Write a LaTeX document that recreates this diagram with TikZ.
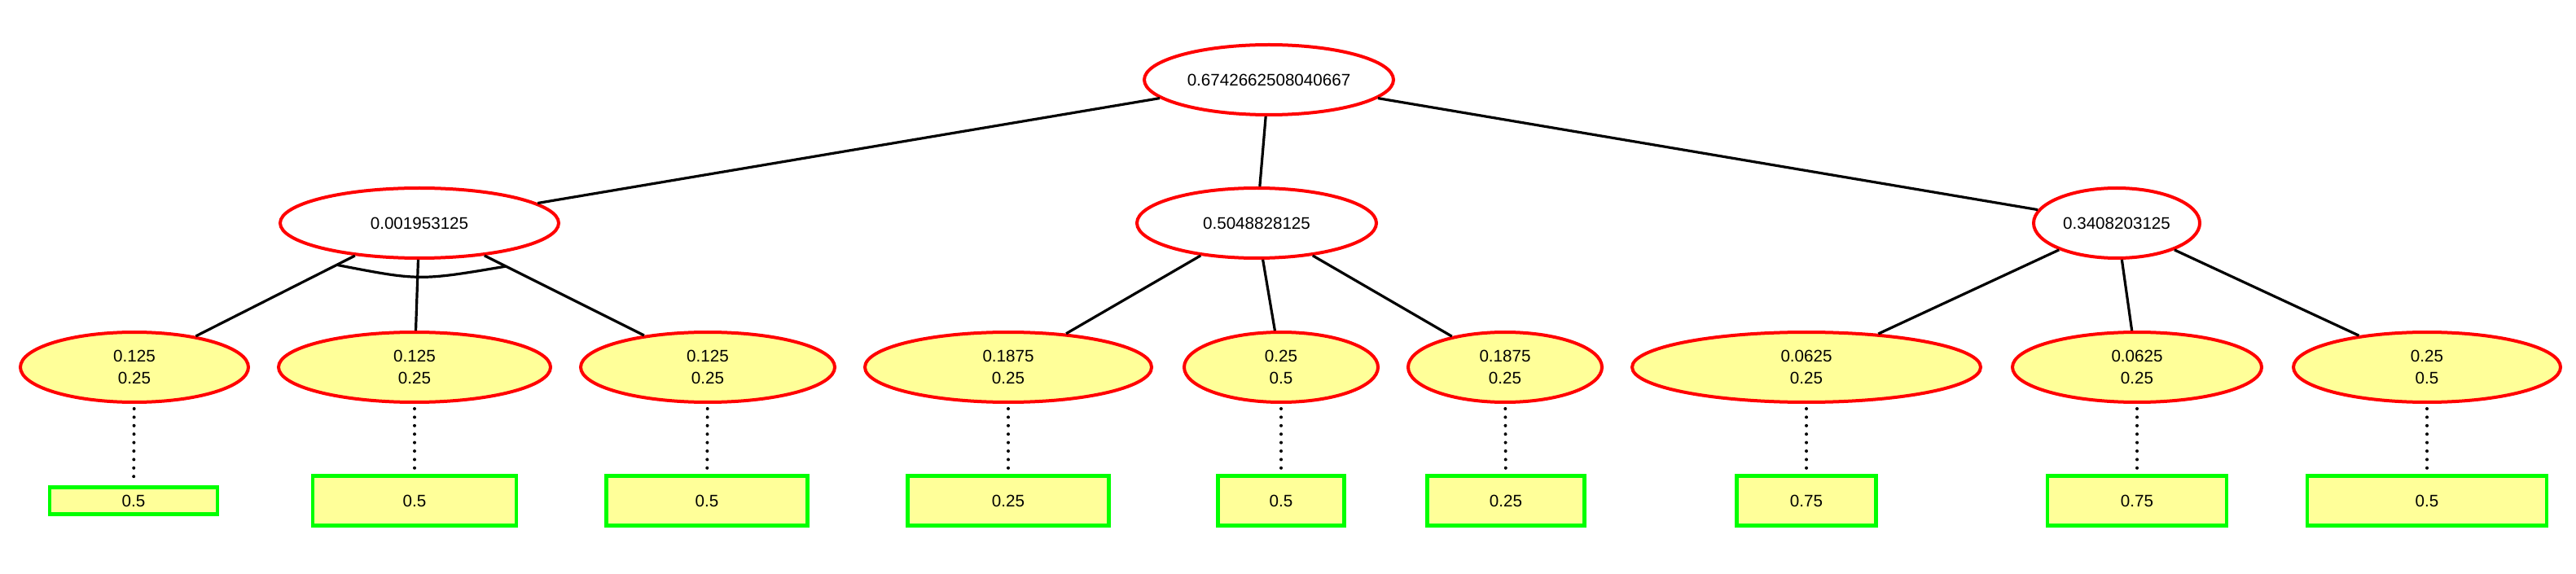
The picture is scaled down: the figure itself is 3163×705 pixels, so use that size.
\documentclass[tikz,border=0pt]{standalone}
\usepackage{fontspec}
\setmainfont{Liberation Sans}
\usetikzlibrary{shapes.geometric,calc}
\definecolor{leafyellow}{RGB}{255,255,153}
\definecolor{leafgreen}{RGB}{0,255,0}
\tikzset{
  inner/.style={ellipse, draw=red, line width=2pt, inner sep=0pt, minimum height=43pt, font=\fontsize{10.3}{13.5}\selectfont},
  chance/.style={ellipse, draw=red, fill=leafyellow, line width=2pt, inner sep=0pt, minimum height=43pt, align=center, font=\fontsize{10.3}{13.5}\selectfont},
  leafbox/.style={rectangle, draw=leafgreen, fill=leafyellow, line width=2.2pt, inner sep=0pt, minimum height=30.5pt, font=\fontsize{10.3}{13.5}\selectfont},
  edge/.style={draw=black, line width=1.6pt},
  dotedge/.style={draw=black, line width=2pt, line cap=round, dash pattern=on 0pt off 5.2pt, shorten <=3pt, shorten >=2pt}
}
\begin{document}
\begin{tikzpicture}[x=0.5pt,y=-0.5pt]
\useasboundingbox (0,0) rectangle (3163,705);
% root and level 1
\node[inner, minimum width=153pt] (root) at (1558,98) {0.6742662508040667};
\node[inner, minimum width=171pt] (a) at (515,274) {0.001953125};
\node[inner, minimum width=147pt] (b) at (1543,274) {0.5048828125};
\node[inner, minimum width=102pt] (c) at (2599,274) {0.3408203125};
% level 2
\node[chance, minimum width=140pt] (e1) at (165,451) {0.125\\0.25};
\node[chance, minimum width=167pt] (e2) at (509,451) {0.125\\0.25};
\node[chance, minimum width=156pt] (e3) at (869,451) {0.125\\0.25};
\node[chance, minimum width=176pt] (e4) at (1238,451) {0.1875\\0.25};
\node[chance, minimum width=119pt] (e5) at (1573,451) {0.25\\0.5};
\node[chance, minimum width=119pt] (e6) at (1848,451) {0.1875\\0.25};
\node[chance, minimum width=214pt] (e7) at (2218,451) {0.0625\\0.25};
\node[chance, minimum width=153pt] (e8) at (2624,451) {0.0625\\0.25};
\node[chance, minimum width=164pt] (e9) at (2980,451) {0.25\\0.5};
% leaves
\node[leafbox, minimum width=103pt, minimum height=16.5pt] (f1) at (164,615) {0.5};
\node[leafbox, minimum width=125pt] (f2) at (509,615) {0.5};
\node[leafbox, minimum width=123.5pt] (f3) at (868,615) {0.5};
\node[leafbox, minimum width=123.5pt] (f4) at (1238,615) {0.25};
\node[leafbox, minimum width=77.5pt] (f5) at (1573,615) {0.5};
\node[leafbox, minimum width=96.5pt] (f6) at (1849,615) {0.25};
\node[leafbox, minimum width=85.5pt] (f7) at (2218,615) {0.75};
\node[leafbox, minimum width=110pt] (f8) at (2624,615) {0.75};
\node[leafbox, minimum width=147pt] (f9) at (2980,615) {0.5};
% edges
\draw[edge] (root) -- (a);
\draw[edge] (root) -- (b);
\draw[edge] (root) -- (c);
\draw[edge] (a) -- (e1);
\draw[edge] (a) -- (e2);
\draw[edge] (a) -- (e3);
\draw[edge] (b) -- (e4);
\draw[edge] (b) -- (e5);
\draw[edge] (b) -- (e6);
\draw[edge] (c) -- (e7);
\draw[edge] (c) -- (e8);
\draw[edge] (c) -- (e9);
% and-arc
\coordinate (andc) at (515,345);
\draw[edge] ($(a)!0.29!(e1)$) .. controls (andc) .. ($(a)!0.30!(e3)$);
% dotted
\foreach \i in {1,...,9} { \draw[dotedge] (e\i) -- (f\i); }
\end{tikzpicture}
\end{document}
